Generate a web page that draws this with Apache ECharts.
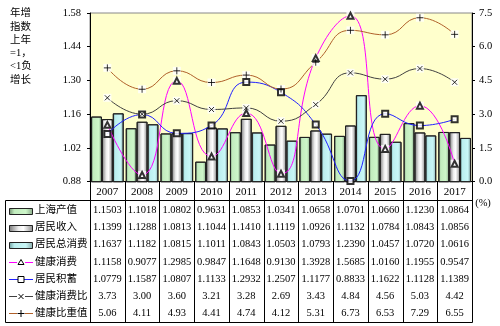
<!DOCTYPE html>
<html><head><meta charset="utf-8">
<script src="https://cdn.jsdelivr.net/npm/echarts@6/dist/echarts.min.js"></script>
<style>html,body{margin:0;padding:0;background:#fff}#c{width:500px;height:326px}</style>
</head><body><div id="c"></div>
<script>
// ---- data ----
const years = ['2007','2008','2009','2010','2011','2012','2013','2014','2015','2016','2017'];
const shOutput   = [1.1503,1.1018,1.0802,0.9631,1.0853,1.0341,1.0658,1.0701,1.0660,1.1230,1.0864];
const income     = [1.1399,1.1288,1.0813,1.1044,1.1410,1.1119,1.0926,1.1132,1.0784,1.0843,1.0856];
const totalCons  = [1.1637,1.1182,1.0815,1.1011,1.0843,1.0503,1.0793,1.2390,1.0457,1.0720,1.0616];
const healthCons = [1.1158,0.9077,1.2985,0.9847,1.1648,0.9130,1.3928,1.5685,1.0160,1.1955,0.9547];
const savings    = [1.0779,1.1587,1.0807,1.1133,1.2932,1.2507,1.1177,0.8833,1.1622,1.1128,1.1389];
const healthRatio= [3.73,3.00,3.60,3.21,3.28,2.69,3.43,4.84,4.56,5.03,4.42];
const healthShare= [5.06,4.11,4.93,4.41,4.74,4.12,5.31,6.73,6.53,7.29,6.55];
const leftTickLabels  = ['0.88','1.02','1.16','1.30','1.44','1.58'];
const rightTickLabels = ['0.0','1.5','3.0','4.5','6.0','7.5'];
const seriesNames = ['上海产值','居民收入','居民总消费','健康消费','居民积蓄','健康消费比','健康比重值'];
const yTitle = ['年增','指数','上年','=1，','<1负','增长'];

const NUMFONT = '"Liberation Serif","Times New Roman","Noto Sans CJK SC",serif';
const G = echarts.graphic.LinearGradient;
const gGreen = () => new G(0,0,1,0,[{offset:0,color:'#6F8F6F'},{offset:0.22,color:'#C2ECBE'},{offset:0.7,color:'#CDF6C9'},{offset:1,color:'#88A888'}]);
const gGray  = () => new G(0,0,1,0,[{offset:0,color:'#777'},{offset:0.4,color:'#EEE'},{offset:0.6,color:'#FFF'},{offset:1,color:'#888'}]);
const gCyan  = () => new G(0,0,1,0,[{offset:0,color:'#6C9C9C'},{offset:0.22,color:'#BBEEEE'},{offset:0.7,color:'#C9F7F7'},{offset:1,color:'#86A8A8'}]);

const lineDefs = [
  {name:seriesNames[3], data:healthCons, axis:0, color:'#FF00FF', sym:'emptyTriangle', size:6, bg:true},
  {name:seriesNames[4], data:savings,   axis:0, color:'#2020FF', sym:'emptyRect', size:6, bg:false},
  {name:seriesNames[5], data:healthRatio, axis:1, color:'#404040', sym:'path://M0,0L10,10M10,0L0,10', size:5, bg:true},
  {name:seriesNames[6], data:healthShare, axis:1, color:'#B0602A', sym:'path://M5,0L5,10M0,5L10,5', size:7, bg:true}
];

const series = [];
[[shOutput,gGreen],[income,gGray],[totalCons,gCyan]].forEach((p,i)=>{
  series.push({name:seriesNames[i], type:'bar', data:p[0], yAxisIndex:0, barGap:'0%', barCategoryGap:'6%', z:2,
    itemStyle:{color:p[1](), borderColor:'#222', borderWidth:1}});
});
lineDefs.forEach(d=>{
  series.push({name:d.name, type:'line', data:d.data, yAxisIndex:d.axis, smooth:0.5, symbol:'none', z:3,
    lineStyle:{color:d.color, width:1}});
  if (d.bg) series.push({type:'scatter', data:d.data, yAxisIndex:d.axis, symbol:'rect', symbolSize:8, z:4, silent:true,
    itemStyle:{color:'#fff'}});
  const isPath = d.sym.indexOf('path://')===0;
  series.push({type:'scatter', data:d.data, yAxisIndex:d.axis, symbol:d.sym, symbolSize:d.size, z:5, silent:true,
    itemStyle: isPath ? {color:'transparent', borderColor:'#000', borderWidth:1} : {color:'#000', borderColor:'#000', borderWidth:1}});
});

const lMin = +leftTickLabels[0], lMax = +leftTickLabels[leftTickLabels.length-1];
const rMin = +rightTickLabels[0], rMax = +rightTickLabels[rightTickLabels.length-1];
const option = {
  animation:false,
  grid:{left:90, right:28, top:13, bottom:144.3, show:true, backgroundColor:'#FFFFCC', borderColor:'#888', borderWidth:1},
  xAxis:{type:'category', data:years, axisLine:{lineStyle:{color:'#000'}}, axisTick:{show:false},
    axisLabel:{color:'#000', fontSize:11, fontFamily:NUMFONT, margin:5}},
  yAxis:[
    {type:'value', min:lMin, max:lMax, interval:+(leftTickLabels[1]-leftTickLabels[0]).toFixed(2), splitLine:{show:false},
     axisLine:{show:true, lineStyle:{color:'#000'}}, axisTick:{show:true, length:3, lineStyle:{color:'#000'}},
     axisLabel:{color:'#000', fontSize:10.5, fontFamily:NUMFONT, margin:9, formatter:v=>v.toFixed(2)}},
    {type:'value', min:rMin, max:rMax, interval:+(rightTickLabels[1]-rightTickLabels[0]), position:'right', splitLine:{show:false},
     axisLine:{show:true, lineStyle:{color:'#000'}}, axisTick:{show:true, length:3, lineStyle:{color:'#000'}},
     axisLabel:{color:'#000', fontSize:10.5, fontFamily:NUMFONT, margin:7, formatter:v=>v.toFixed(1)}}
  ],
  series:series
};
const chart = echarts.init(document.getElementById('c'), null, {renderer:'canvas'});
chart.setOption(option);

// ---- data table drawn under the axis ----
const cx = years.map(y=>chart.convertToPixel({xAxisIndex:0}, y));
const cw = cx[1]-cx[0];
const xL = cx[0]-cw/2, xR = cx[cx.length-1]+cw/2;
const yB = chart.convertToPixel({yAxisIndex:0}, lMin);
const tTop = 200, tBot = 321.5, tLeft = 5;
const rowH = 17.1, row0 = 210.5;
const px = v=>Math.round(v)+0.5;
const els = [];
const ln = (x1,y1,x2,y2,c,w)=>els.push({type:'line', shape:{x1,y1,x2,y2}, style:{stroke:c||'#000', lineWidth:w||1}, z:10});
ln(tLeft+0.5, px(tTop), px(xR), px(tTop));
ln(tLeft+0.5, px(tBot), px(xR), px(tBot));
ln(tLeft+0.5, px(tTop), tLeft+0.5, px(tBot));
for (let i=0;i<=years.length;i++){ const x=px(xL+i*cw); ln(x, yB, x, px(tBot)); }
const tableData = [shOutput,income,totalCons,healthCons,savings,healthRatio,healthShare];
tableData.forEach((arr,r)=>{
  const dec = r>=5 ? 2 : 4;
  arr.forEach((v,i)=>{
    els.push({type:'text', x:cx[i], y:row0+r*rowH, z:11,
      style:{text:v.toFixed(dec), font:'10.5px '+NUMFONT, fill:'#000', align:'center', verticalAlign:'middle'}});
  });
  els.push({type:'text', x:35, y:row0+r*rowH, z:11,
    style:{text:seriesNames[r], font:'10.5px '+NUMFONT, fill:'#000', align:'left', verticalAlign:'middle'}});
});
[gGreen,gGray,gCyan].forEach((g,r)=>{
  els.push({type:'rect', shape:{x:9.5, y:Math.round(row0+r*rowH-3)+0.5, width:23, height:6}, style:{fill:g(), stroke:'#222', lineWidth:1}, z:11});
});
lineDefs.forEach((d,k)=>{
  const y = Math.round(row0+(k+3)*rowH)+0.5;
  ln(9, y, 33, y, d.color, 1);
  const c = 21;
  if (k===0){
    els.push({type:'rect', shape:{x:c-4,y:y-4,width:8,height:8}, style:{fill:'#fff'}, z:11});
    els.push({type:'polygon', shape:{points:[[c,y-3],[c+3,y+2],[c-3,y+2]]}, style:{fill:'#fff', stroke:'#000', lineWidth:1}, z:12});
  } else if (k===1){
    els.push({type:'rect', shape:{x:c-3,y:y-3,width:6,height:6}, style:{fill:'#fff', stroke:'#000', lineWidth:1}, z:12});
  } else if (k===2){
    els.push({type:'rect', shape:{x:c-4,y:y-4,width:8,height:8}, style:{fill:'#fff'}, z:11});
    els.push({type:'polyline', shape:{points:[[c-2.5,y-2.5],[c+2.5,y+2.5]]}, style:{stroke:'#000', lineWidth:1}, z:12});
    els.push({type:'polyline', shape:{points:[[c+2.5,y-2.5],[c-2.5,y+2.5]]}, style:{stroke:'#000', lineWidth:1}, z:12});
  } else {
    els.push({type:'rect', shape:{x:c-4,y:y-4,width:8,height:8}, style:{fill:'#fff'}, z:11});
    els.push({type:'polyline', shape:{points:[[c,y-3.5],[c,y+3.5]]}, style:{stroke:'#000', lineWidth:1}, z:12});
    els.push({type:'polyline', shape:{points:[[c-3.5,y],[c+3.5,y]]}, style:{stroke:'#000', lineWidth:1}, z:12});
  }
});
yTitle.forEach((t,i)=>{
  els.push({type:'text', x:10, y:13.5+i*13.3, z:11,
    style:{text:t, font:'10.5px '+NUMFONT, fill:'#000', align:'left', verticalAlign:'middle'}});
});
els.push({type:'text', x:483, y:203, z:11, style:{text:'(%)', font:'10.5px '+NUMFONT, fill:'#000', align:'center', verticalAlign:'middle'}});
chart.setOption({graphic:{elements:els}});
</script></body></html>
